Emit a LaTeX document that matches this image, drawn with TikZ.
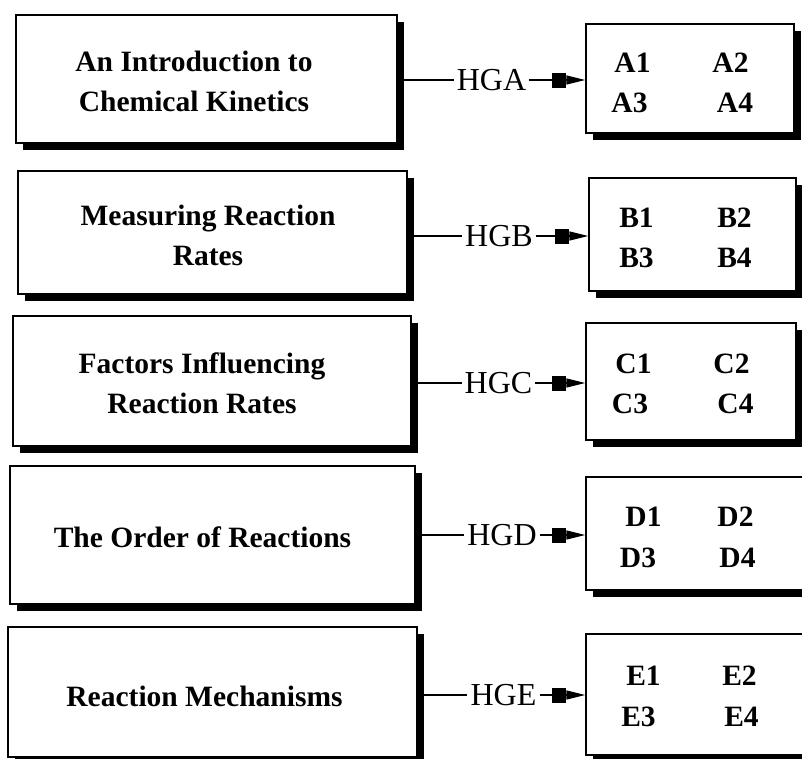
\documentclass[tikz,border=0pt]{standalone}
\usepackage{fontspec}
\setmainfont{Liberation Serif}
\usetikzlibrary{shadows,arrows.meta}
\tikzset{
  sbox/.style={draw, fill=white, line width=1.4pt, inner sep=0pt,
    general shadow={fill=black, shadow xshift=7pt, shadow yshift=-7pt}},
  ttext/.style={align=center, inner sep=0pt,
    font=\fontsize{29.5}{40}\selectfont\bfseries},
  hglabel/.style={inner xsep=3pt, inner ysep=0pt, text height=21pt, text depth=0pt,
    font=\fontsize{32}{34}\selectfont},
  itemtext/.style={anchor=base, inner sep=0pt,
    font=\fontsize{29.5}{30}\selectfont\bfseries},
  conn/.style={line width=1.4pt},
  arr/.style={line width=1.4pt, -{Rectangle[length=14pt,width=15pt]Triangle[length=19pt,width=9pt]}}
}
\begin{document}
\begin{tikzpicture}[x=1pt,y=-1pt]
\useasboundingbox (0,0) rectangle (802,758);
\clip (0,0) rectangle (802,758);
% left boxes
\node[sbox, minimum width=381pt, minimum height=128pt] (L1) at (206.5,79) {};
\node[sbox, minimum width=389pt, minimum height=123pt] (L2) at (212.5,232.5) {};
\node[sbox, minimum width=398pt, minimum height=130pt] (L3) at (212,381) {};
\node[sbox, minimum width=405pt, minimum height=138pt] (L4) at (212.5,535) {};
\node[sbox, minimum width=409pt, minimum height=130pt] (L5) at (212.5,692) {};
% texts
\node[ttext] (T1) at (194,81.5) {An Introduction to\\Chemical Kinetics};
\node[ttext] (T2) at (208,235) {Measuring Reaction\\Rates};
\node[ttext] (T3) at (202,383) {Factors Influencing\\Reaction Rates};
\node[ttext] (T4) at (202.5,537) {The Order of Reactions};
\node[ttext] (T5) at (204.5,696.5) {Reaction Mechanisms};
% right boxes
\node[sbox, minimum width=208pt, minimum height=109pt] (R1) at (690,78.5) {};
\node[sbox, minimum width=207pt, minimum height=113pt] (R2) at (692.5,234.5) {};
\node[sbox, minimum width=210pt, minimum height=117pt] (R3) at (691,381.5) {};
\node[sbox, minimum width=220pt, minimum height=113pt] (R4) at (696,533.5) {};
\node[sbox, minimum width=220pt, minimum height=121pt] (R5) at (696,694.5) {};
% items
\node[itemtext] (a1) at (632.5,72) {A1};
\node[itemtext] (a2) at (730.5,72) {A2};
\node[itemtext] (a3) at (629.5,112) {A3};
\node[itemtext] (a4) at (735,112) {A4};
\node[itemtext] (b1) at (636.5,227) {B1};
\node[itemtext] (b2) at (734.5,227) {B2};
\node[itemtext] (b3) at (636.5,267) {B3};
\node[itemtext] (b4) at (734.5,267) {B4};
\node[itemtext] (c1) at (633.5,373) {C1};
\node[itemtext] (c2) at (731.5,373) {C2};
\node[itemtext] (c3) at (630,413) {C3};
\node[itemtext] (c4) at (735.5,413) {C4};
\node[itemtext] (d1) at (643.5,526) {D1};
\node[itemtext] (d2) at (735.5,526) {D2};
\node[itemtext] (d3) at (638,567) {D3};
\node[itemtext] (d4) at (737.5,567) {D4};
\node[itemtext] (e1) at (643.5,685) {E1};
\node[itemtext] (e2) at (739.5,685) {E2};
\node[itemtext] (e3) at (638.5,726) {E3};
\node[itemtext] (e4) at (741.5,726) {E4};
% labels
\node[hglabel] (H1) at (491.5,80) {HGA};
\node[hglabel] (H2) at (499,236) {HGB};
\node[hglabel] (H3) at (498.5,383) {HGC};
\node[hglabel] (H4) at (502,535) {HGD};
\node[hglabel] (H5) at (503.5,695) {HGE};
% connectors
\foreach \i in {1,...,5}{
  \draw[conn] (H\i.west -| L\i.east) -- (H\i.west);
  \draw[arr] (H\i.east) -- (H\i.east -| R\i.west);
}
\end{tikzpicture}
\end{document}
